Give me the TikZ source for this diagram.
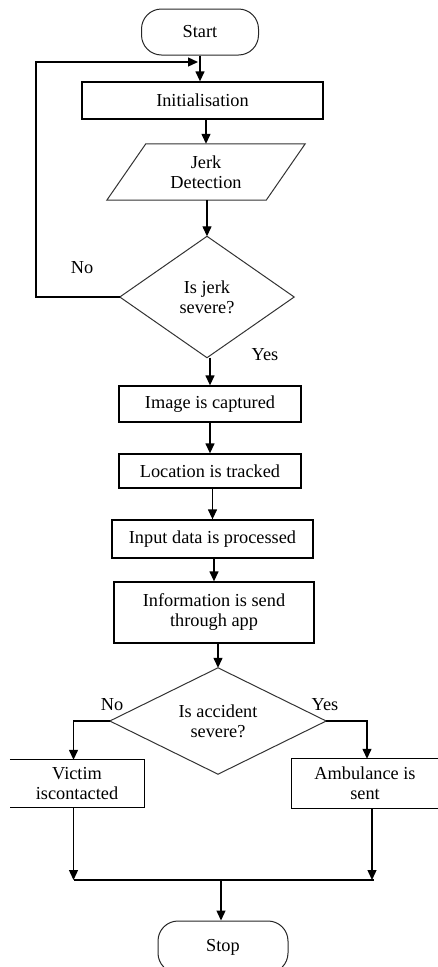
\documentclass[tikz,border=0pt]{standalone}
\usepackage{fontspec}
\setmainfont{Liberation Serif}
\usetikzlibrary{arrows.meta}
\begin{document}
\begin{tikzpicture}[x=1pt,y=-1pt,
  every node/.style={font=\fontsize{18.3}{20}\selectfont, align=center, inner sep=0pt},
  proc/.style={rectangle, draw, line width=1.3pt},
  plain/.style={rectangle, draw=none},
  term/.style={rectangle, draw=black!85, rounded corners=20pt, line width=1pt},
  outline/.style={line width=1pt, draw=black!80},
  edge/.style={line width=1.3pt},
  conn/.style={line width=1.3pt, -{Triangle[length=10pt,width=9pt]}}
]
\path[use as bounding box] (0,0) rectangle (438,967);
\clip (0,0) rectangle (438,967);

% nodes
\node[term, minimum width=117pt, minimum height=46pt] (start) at (200,32) {Start};
\node[proc, minimum width=241pt, minimum height=37pt] (init) at (202.5,100.5) {Initialisation};
\node[plain, minimum width=159pt, minimum height=56pt] (jerk) at (206,172) {Jerk\\Detection};
\draw[outline] ([xshift=19.5pt]jerk.north west) -- ([xshift=19.5pt]jerk.north east)
  -- ([xshift=-19.5pt]jerk.south east) -- ([xshift=-19.5pt]jerk.south west) -- cycle;
\node[plain, minimum width=174pt, minimum height=121pt] (d1) at (207,297) {Is jerk\\severe?};
\draw[outline] (d1.north) -- (d1.east) -- (d1.south) -- (d1.west) -- cycle;
\node[proc, minimum width=182pt, minimum height=36pt] (img) at (210,404) {Image is captured};
\node[proc, minimum width=182pt, minimum height=34pt] (loc) at (210,471) {Location is tracked};
\node[proc, minimum width=201pt, minimum height=38pt] (inp) at (212.5,539) {Input data is processed};
\node[proc, minimum width=200pt, minimum height=61pt] (info) at (214,612.5) {Information is send\\through app};
\node[plain, minimum width=216pt, minimum height=106pt] (d2) at (218,721) {Is accident\\severe?};
\draw[outline] (d2.north) -- (d2.east) -- (d2.south) -- (d2.west) -- cycle;
\node[plain, minimum width=134pt, minimum height=47pt] (victim) at (77,783.5) {Victim\\iscontacted};
\draw[edge] (victim.north west) -- (victim.north east) -- (victim.south east) -- (victim.south west);
\node[plain, minimum width=146pt, minimum height=49pt] (amb) at (365,783.5) {Ambulance is\\sent};
\draw[edge] (amb.north east) -- (amb.north west) -- (amb.south west) -- (amb.south east);
\node[term, minimum width=130pt, minimum height=52pt] (stop) at (223,947) {Stop};

% labels
\node (no1) at (82,268) {No};
\node (yes1) at (265,355) {Yes};
\node (no2) at (112,705) {No};
\node (yes2) at (325,705) {Yes};

% coordinates
\coordinate (loopcorner) at (36,62);
\coordinate (loopend) at (198,62);
\coordinate (jl) at (73.5,880);
\coordinate (jr) at (372,880);

% connectors
\draw[conn] (start.south) -- (start.south |- init.north);
\draw[conn] (d1.west) -| (loopcorner) -- (loopend);
\draw[conn] (init.south -| jerk.north) -- (jerk.north);
\draw[conn] (jerk.south -| d1.north) -- (d1.north);
\draw[conn] (d1.south -| img.north) -- (img.north);
\draw[conn] (img.south -| loc.north) -- (loc.north);
\draw[conn] (loc.south -| inp.north) -- (inp.north);
\draw[conn] (inp.south -| info.north) -- (info.north);
\draw[conn] (info.south -| d2.north) -- (d2.north);
\draw[conn] (d2.west) -| ([xshift=-3.5pt]victim.north);
\draw[conn] (d2.east) -| ([xshift=2pt]amb.north);
\draw[conn] ([xshift=-3.5pt]victim.south) -- (jl);
\draw[conn] ([xshift=7pt]amb.south) -- (jr);
\draw[edge] (jl) -- ([xshift=2pt]jr);
\draw[conn] ([xshift=-2pt]stop.north |- jl) -- ([xshift=-2pt]stop.north);
\end{tikzpicture}
\end{document}
